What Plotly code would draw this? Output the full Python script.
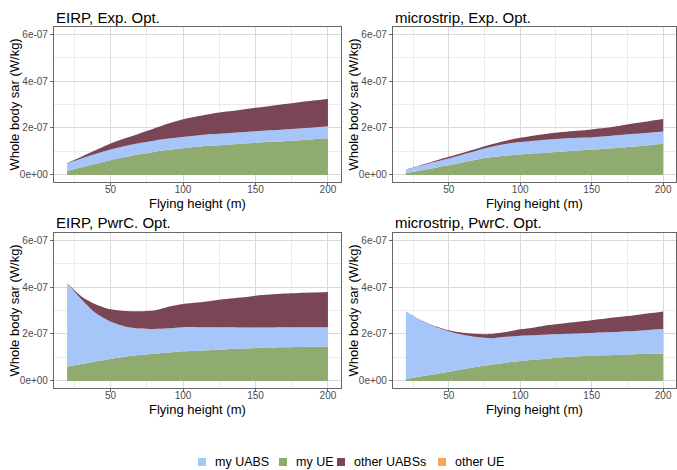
import plotly.graph_objects as go

# Flying heights (m)
heights = [20, 30, 40, 50, 60, 70, 80, 90, 100, 110, 120, 130, 140, 150, 160, 170, 180, 190, 200]

UNIT = 1e-7  # series below are given in units of 1e-07 W/kg

# EIRP, Exp. Opt.
eirp_exp_my_ue = [0.17, 0.33, 0.48, 0.63, 0.76, 0.88, 0.98, 1.07, 1.14, 1.20, 1.25, 1.29, 1.33, 1.37, 1.41, 1.44, 1.48, 1.52, 1.56]
eirp_exp_my_uabs = [0.32, 0.37, 0.42, 0.45, 0.47, 0.48, 0.48, 0.48, 0.48, 0.48, 0.49, 0.49, 0.49, 0.49, 0.49, 0.50, 0.50, 0.50, 0.51]
eirp_exp_other_uabs = [0.01, 0.08, 0.16, 0.26, 0.33, 0.41, 0.52, 0.64, 0.75, 0.82, 0.87, 0.92, 0.96, 1.00, 1.04, 1.08, 1.12, 1.15, 1.18]

# microstrip, Exp. Opt.
micro_exp_my_ue = [0.08, 0.19, 0.30, 0.41, 0.54, 0.66, 0.76, 0.82, 0.87, 0.92, 0.96, 1.00, 1.04, 1.08, 1.12, 1.16, 1.21, 1.27, 1.33]
micro_exp_my_uabs = [0.16, 0.20, 0.25, 0.29, 0.33, 0.38, 0.44, 0.50, 0.53, 0.54, 0.55, 0.55, 0.54, 0.53, 0.53, 0.54, 0.54, 0.53, 0.52]
micro_exp_other_uabs = [0.00, 0.02, 0.04, 0.07, 0.08, 0.09, 0.11, 0.14, 0.18, 0.22, 0.26, 0.28, 0.30, 0.33, 0.36, 0.40, 0.45, 0.49, 0.53]

# EIRP, PwrC. Opt.
eirp_pwr_my_ue = [0.60, 0.72, 0.84, 0.94, 1.03, 1.10, 1.16, 1.21, 1.26, 1.29, 1.32, 1.35, 1.37, 1.40, 1.42, 1.43, 1.45, 1.46, 1.47]
eirp_pwr_my_uabs = [3.57, 2.75, 2.04, 1.59, 1.29, 1.13, 1.05, 1.03, 1.03, 1.00, 0.97, 0.94, 0.91, 0.88, 0.86, 0.86, 0.84, 0.83, 0.82]
eirp_pwr_other_uabs = [0.00, 0.13, 0.38, 0.52, 0.66, 0.74, 0.79, 0.92, 0.99, 1.05, 1.13, 1.20, 1.27, 1.35, 1.40, 1.43, 1.46, 1.48, 1.50]

# microstrip, PwrC. Opt.
micro_pwr_my_ue = [0.08, 0.19, 0.29, 0.39, 0.50, 0.60, 0.69, 0.78, 0.85, 0.90, 0.96, 1.01, 1.04, 1.07, 1.09, 1.12, 1.14, 1.16, 1.17]
micro_pwr_my_uabs = [2.89, 2.41, 2.03, 1.73, 1.47, 1.27, 1.13, 1.10, 1.08, 1.05, 1.02, 0.99, 0.98, 0.97, 0.98, 0.98, 0.99, 1.01, 1.04]
micro_pwr_other_uabs = [0.00, 0.01, 0.02, 0.04, 0.08, 0.13, 0.18, 0.20, 0.27, 0.33, 0.40, 0.45, 0.50, 0.55, 0.59, 0.63, 0.67, 0.71, 0.75]

# other UE contributes nothing in any scenario
other_ue = [0.0] * len(heights)

panel_titles = ["EIRP, Exp. Opt.", "microstrip, Exp. Opt.", "EIRP, PwrC. Opt.", "microstrip, PwrC. Opt."]
series_names = ["my UABS", "my UE", "other UABSs", "other UE"]
series_colors = {"my UABS": "#a6c6fa", "my UE": "#8fab6f", "other UABSs": "#7a4555", "other UE": "#f4a460"}

y_tickvals = [0, 2e-7, 4e-7, 6e-7]
y_ticktext = ["0e+00", "2e-07", "4e-07", "6e-07"]
x_tickvals = [50, 100, 150, 200]

panels = [
    {"my UE": eirp_exp_my_ue, "my UABS": eirp_exp_my_uabs, "other UABSs": eirp_exp_other_uabs, "other UE": other_ue},
    {"my UE": micro_exp_my_ue, "my UABS": micro_exp_my_uabs, "other UABSs": micro_exp_other_uabs, "other UE": other_ue},
    {"my UE": eirp_pwr_my_ue, "my UABS": eirp_pwr_my_uabs, "other UABSs": eirp_pwr_other_uabs, "other UE": other_ue},
    {"my UE": micro_pwr_my_ue, "my UABS": micro_pwr_my_uabs, "other UABSs": micro_pwr_other_uabs, "other UE": other_ue},
]

W, H = 677, 470
# panel boxes in pixels: (left, right, top, bottom)
boxes = [(54, 341, 27, 182), (393, 676, 27, 182), (54, 341, 233, 388), (393, 676, 233, 388)]

fig = go.Figure()
stack_order = ["my UE", "my UABS", "other UABSs", "other UE"]

for i, data in enumerate(panels):
    ax = "" if i == 0 else str(i + 1)
    for name in stack_order:
        fig.add_trace(go.Scatter(
            x=heights, y=[v * UNIT for v in data[name]],
            name=name, mode="lines", stackgroup=f"s{i}",
            line=dict(width=0, color=series_colors[name], shape="spline", smoothing=0.8),
            fillcolor=series_colors[name],
            showlegend=False,
            xaxis="x" + ax, yaxis="y" + ax, hoverinfo="skip",
        ))

layout = {}
annotations = []
shapes = []
font_family = "Liberation Sans, Arial, sans-serif"
for i, (l, r, t, b) in enumerate(boxes):
    ax = "" if i == 0 else str(i + 1)
    xdom = [l / W, r / W]
    ydom = [1 - b / H, 1 - t / H]
    common = dict(
        showline=True, linecolor="#666666", linewidth=1.1, mirror=True,
        ticks="outside", ticklen=3, tickcolor="#666666", tickwidth=1,
        gridcolor="#dadada", gridwidth=1, zeroline=False,
        tickfont=dict(family=font_family, size=10, color="#4d4d4d"),
    )
    layout["xaxis" + ax] = dict(
        domain=xdom, range=[11, 209], tickvals=x_tickvals, anchor="y" + ax,
        ticklabelstandoff=-5,
        minor=dict(tickvals=[25, 75, 125, 175], showgrid=True, gridcolor="#ebebeb", gridwidth=0.6, ticks=""),
        **common,
    )
    layout["yaxis" + ax] = dict(
        domain=ydom, range=[-0.3e-7, 6.3e-7], tickvals=y_tickvals, ticktext=y_ticktext, anchor="x" + ax,
        minor=dict(tickvals=[1e-7, 3e-7, 5e-7], showgrid=True, gridcolor="#ebebeb", gridwidth=0.6, ticks=""),
        **common,
    )
    annotations.append(dict(
        text=panel_titles[i], x=l / W, y=1 - (t - 10) / H, xref="paper", yref="paper",
        xanchor="left", yanchor="middle", showarrow=False,
        font=dict(family=font_family, size=15, color="black"),
    ))
    annotations.append(dict(
        text="Flying height (m)", x=(l + r) / 2 / W, y=1 - (b + 21) / H, xref="paper", yref="paper",
        xanchor="center", yanchor="middle", showarrow=False,
        font=dict(family=font_family, size=13, color="black"),
    ))
    annotations.append(dict(
        text="Whole body sar (W/kg)", x=(l - 40) / W, y=1 - (t + b) / 2 / H, xref="paper", yref="paper",
        xanchor="center", yanchor="middle", showarrow=False, textangle=-90,
        font=dict(family=font_family, size=13, color="black"),
    ))

# legend: colour keys with their labels along the bottom
legend_keys = [198, 279, 337, 438]   # left edge of each key, px
legend_y = 462
for name, kx in zip(series_names, legend_keys):
    shapes.append(dict(
        type="rect", xref="paper", yref="paper",
        x0=kx / W, x1=(kx + 8) / W, y0=1 - (legend_y + 4) / H, y1=1 - (legend_y - 4) / H,
        fillcolor=series_colors[name], line=dict(width=0),
    ))
    annotations.append(dict(
        text=name, x=(kx + 15) / W, y=1 - legend_y / H, xref="paper", yref="paper",
        xanchor="left", yanchor="middle", showarrow=False,
        font=dict(family=font_family, size=12.5, color="black"),
    ))

fig.update_layout(
    width=W, height=H,
    margin=dict(l=0, r=0, t=0, b=0),
    paper_bgcolor="white", plot_bgcolor="white",
    annotations=annotations, shapes=shapes,
    showlegend=False,
    **layout,
)

fig.write_html("out.html")
